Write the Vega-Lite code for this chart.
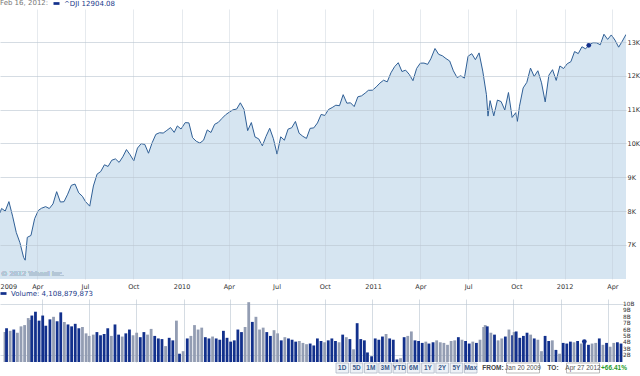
{
"$schema":"https://vega.github.io/schema/vega-lite/v6.json",
"padding":0,
"background":"white",
"spacing":0,
"datasets":{
"dji":[
{"t":"2009-01-20","c":7949,"v":5.6,"u":0},{"t":"2009-01-23","c":8077,"v":6.2,"u":1},{"t":"2009-01-30","c":8001,"v":5.8,"u":0},{"t":"2009-02-06","c":8280,"v":6.0,"u":1},{"t":"2009-02-13","c":7850,"v":5.5,"u":0},{"t":"2009-02-20","c":7366,"v":6.5,"u":0},{"t":"2009-02-27","c":7063,"v":6.7,"u":0},{"t":"2009-03-06","c":6627,"v":7.8,"u":0},{"t":"2009-03-09","c":6547,"v":7.5,"u":0},{"t":"2009-03-13","c":7223,"v":8.2,"u":1},{"t":"2009-03-20","c":7278,"v":8.8,"u":1},{"t":"2009-03-27","c":7776,"v":7.4,"u":1},
{"t":"2009-04-03","c":8018,"v":8.2,"u":1},{"t":"2009-04-09","c":8083,"v":6.6,"u":1},{"t":"2009-04-17","c":8131,"v":7.6,"u":1},{"t":"2009-04-24","c":8076,"v":8.0,"u":0},{"t":"2009-05-01","c":8212,"v":7.3,"u":1},{"t":"2009-05-08","c":8575,"v":8.7,"u":1},{"t":"2009-05-15","c":8268,"v":7.2,"u":0},{"t":"2009-05-22","c":8277,"v":6.8,"u":1},{"t":"2009-05-29","c":8500,"v":6.5,"u":1},{"t":"2009-06-05","c":8763,"v":6.9,"u":1},{"t":"2009-06-12","c":8799,"v":6.2,"u":1},{"t":"2009-06-19","c":8539,"v":6.4,"u":0},{"t":"2009-06-26","c":8438,"v":5.4,"u":0},
{"t":"2009-07-02","c":8280,"v":5.0,"u":0},{"t":"2009-07-10","c":8146,"v":5.2,"u":0},{"t":"2009-07-17","c":8743,"v":5.6,"u":1},{"t":"2009-07-24","c":9093,"v":5.1,"u":1},{"t":"2009-07-31","c":9171,"v":5.3,"u":1},{"t":"2009-08-07","c":9370,"v":6.2,"u":1},{"t":"2009-08-14","c":9321,"v":5.0,"u":0},{"t":"2009-08-21","c":9505,"v":6.8,"u":1},{"t":"2009-08-28","c":9544,"v":5.2,"u":1},{"t":"2009-09-04","c":9441,"v":4.9,"u":0},{"t":"2009-09-11","c":9605,"v":5.4,"u":1},{"t":"2009-09-18","c":9820,"v":6.0,"u":1},{"t":"2009-09-25","c":9665,"v":5.1,"u":0},
{"t":"2009-10-02","c":9487,"v":5.5,"u":0},{"t":"2009-10-09","c":9864,"v":4.8,"u":1},{"t":"2009-10-16","c":9995,"v":5.6,"u":1},{"t":"2009-10-23","c":9972,"v":5.2,"u":0},{"t":"2009-10-30","c":9712,"v":6.1,"u":0},{"t":"2009-11-06","c":10023,"v":5.0,"u":1},{"t":"2009-11-13","c":10270,"v":4.6,"u":1},{"t":"2009-11-20","c":10318,"v":4.5,"u":1},{"t":"2009-11-27","c":10309,"v":3.4,"u":0},{"t":"2009-12-04","c":10388,"v":4.7,"u":1},{"t":"2009-12-11","c":10471,"v":4.3,"u":1},{"t":"2009-12-18","c":10329,"v":7.4,"u":0},{"t":"2009-12-24","c":10520,"v":2.2,"u":1},{"t":"2009-12-31","c":10428,"v":2.6,"u":0},
{"t":"2010-01-08","c":10618,"v":4.6,"u":1},{"t":"2010-01-15","c":10610,"v":5.0,"u":0},{"t":"2010-01-22","c":10172,"v":6.7,"u":0},{"t":"2010-01-29","c":10067,"v":6.0,"u":0},{"t":"2010-02-05","c":10012,"v":6.3,"u":0},{"t":"2010-02-12","c":10099,"v":4.8,"u":1},{"t":"2010-02-19","c":10402,"v":4.6,"u":1},{"t":"2010-02-26","c":10325,"v":4.9,"u":0},{"t":"2010-03-05","c":10567,"v":4.6,"u":1},{"t":"2010-03-12","c":10625,"v":4.4,"u":1},{"t":"2010-03-19","c":10742,"v":5.8,"u":1},{"t":"2010-03-26","c":10851,"v":4.7,"u":1},
{"t":"2010-04-02","c":10927,"v":4.1,"u":1},{"t":"2010-04-09","c":10997,"v":4.3,"u":1},{"t":"2010-04-16","c":11019,"v":6.0,"u":1},{"t":"2010-04-23","c":11204,"v":5.6,"u":1},{"t":"2010-04-30","c":11009,"v":6.4,"u":0},{"t":"2010-05-07","c":10380,"v":10.3,"u":0},{"t":"2010-05-14","c":10620,"v":7.2,"u":1},{"t":"2010-05-21","c":10193,"v":8.0,"u":0},{"t":"2010-05-28","c":10137,"v":6.0,"u":0},{"t":"2010-06-04","c":9931,"v":6.3,"u":0},{"t":"2010-06-11","c":10212,"v":5.6,"u":1},{"t":"2010-06-18","c":10450,"v":5.0,"u":1},{"t":"2010-06-25","c":10143,"v":5.9,"u":0},
{"t":"2010-07-02","c":9686,"v":5.4,"u":0},{"t":"2010-07-09","c":10198,"v":4.3,"u":1},{"t":"2010-07-16","c":10097,"v":4.8,"u":0},{"t":"2010-07-23","c":10425,"v":4.6,"u":1},{"t":"2010-07-30","c":10466,"v":4.4,"u":1},{"t":"2010-08-06","c":10653,"v":4.1,"u":1},{"t":"2010-08-13","c":10303,"v":4.2,"u":0},{"t":"2010-08-20","c":10214,"v":3.9,"u":0},{"t":"2010-08-27","c":10150,"v":3.7,"u":0},{"t":"2010-09-03","c":10448,"v":3.8,"u":1},{"t":"2010-09-10","c":10462,"v":3.5,"u":1},{"t":"2010-09-17","c":10608,"v":4.6,"u":1},{"t":"2010-09-24","c":10860,"v":4.2,"u":1},
{"t":"2010-10-01","c":10830,"v":4.0,"u":0},{"t":"2010-10-08","c":11006,"v":4.3,"u":1},{"t":"2010-10-15","c":11063,"v":4.6,"u":1},{"t":"2010-10-22","c":11133,"v":4.2,"u":1},{"t":"2010-10-29","c":11118,"v":4.0,"u":0},{"t":"2010-11-05","c":11445,"v":5.2,"u":1},{"t":"2010-11-12","c":11193,"v":4.8,"u":0},{"t":"2010-11-19","c":11204,"v":4.5,"u":1},{"t":"2010-11-26","c":11092,"v":2.9,"u":0},{"t":"2010-12-03","c":11382,"v":7.0,"u":1},{"t":"2010-12-10","c":11410,"v":4.5,"u":1},{"t":"2010-12-17","c":11492,"v":4.3,"u":1},{"t":"2010-12-23","c":11573,"v":2.4,"u":1},{"t":"2010-12-31","c":11578,"v":1.8,"u":1},
{"t":"2011-01-07","c":11675,"v":4.6,"u":1},{"t":"2011-01-14","c":11787,"v":4.4,"u":1},{"t":"2011-01-21","c":11872,"v":4.9,"u":1},{"t":"2011-01-28","c":11824,"v":5.3,"u":0},{"t":"2011-02-04","c":12092,"v":4.6,"u":1},{"t":"2011-02-11","c":12273,"v":4.4,"u":1},{"t":"2011-02-18","c":12391,"v":1.3,"u":1},{"t":"2011-02-25","c":12130,"v":1.5,"u":0},{"t":"2011-03-04","c":12170,"v":4.8,"u":1},{"t":"2011-03-11","c":12044,"v":5.0,"u":0},{"t":"2011-03-18","c":11859,"v":5.7,"u":0},{"t":"2011-03-25","c":12221,"v":4.3,"u":1},
{"t":"2011-04-01","c":12377,"v":4.2,"u":1},{"t":"2011-04-08","c":12380,"v":3.9,"u":1},{"t":"2011-04-15","c":12342,"v":4.1,"u":0},{"t":"2011-04-21","c":12505,"v":3.8,"u":1},{"t":"2011-04-29","c":12811,"v":4.0,"u":1},{"t":"2011-05-06","c":12638,"v":4.3,"u":0},{"t":"2011-05-13","c":12596,"v":4.0,"u":0},{"t":"2011-05-20","c":12512,"v":3.9,"u":0},{"t":"2011-05-27","c":12441,"v":3.6,"u":0},{"t":"2011-06-03","c":12151,"v":4.2,"u":0},{"t":"2011-06-10","c":11952,"v":4.3,"u":0},{"t":"2011-06-17","c":12004,"v":4.8,"u":1},{"t":"2011-06-24","c":11934,"v":4.4,"u":0},
{"t":"2011-07-01","c":12582,"v":4.2,"u":1},{"t":"2011-07-08","c":12657,"v":3.8,"u":1},{"t":"2011-07-15","c":12480,"v":4.1,"u":0},{"t":"2011-07-22","c":12681,"v":3.9,"u":1},{"t":"2011-07-29","c":12143,"v":4.4,"u":0},{"t":"2011-08-05","c":11444,"v":6.4,"u":0},{"t":"2011-08-08","c":10810,"v":6.7,"u":0},{"t":"2011-08-12","c":11269,"v":6.5,"u":1},{"t":"2011-08-19","c":10818,"v":5.5,"u":0},{"t":"2011-08-26","c":11285,"v":5.2,"u":1},{"t":"2011-09-02","c":11240,"v":4.3,"u":0},{"t":"2011-09-09","c":10992,"v":4.6,"u":0},{"t":"2011-09-16","c":11509,"v":4.9,"u":1},{"t":"2011-09-23","c":10771,"v":6.0,"u":0},{"t":"2011-09-30","c":10913,"v":5.1,"u":1},
{"t":"2011-10-03","c":10655,"v":5.6,"u":0},{"t":"2011-10-07","c":11103,"v":5.7,"u":1},{"t":"2011-10-14","c":11644,"v":4.7,"u":1},{"t":"2011-10-21","c":11809,"v":5.0,"u":1},{"t":"2011-10-28","c":12231,"v":5.5,"u":1},{"t":"2011-11-04","c":11983,"v":5.2,"u":0},{"t":"2011-11-11","c":12153,"v":4.6,"u":1},{"t":"2011-11-18","c":11796,"v":4.4,"u":0},{"t":"2011-11-25","c":11231,"v":2.6,"u":0},{"t":"2011-12-02","c":12019,"v":5.0,"u":1},{"t":"2011-12-09","c":12184,"v":4.2,"u":1},{"t":"2011-12-16","c":11867,"v":4.3,"u":0},{"t":"2011-12-23","c":12294,"v":2.8,"u":1},{"t":"2011-12-30","c":12218,"v":2.2,"u":0},
{"t":"2012-01-06","c":12360,"v":3.9,"u":1},{"t":"2012-01-13","c":12422,"v":3.8,"u":1},{"t":"2012-01-20","c":12720,"v":4.1,"u":1},{"t":"2012-01-27","c":12660,"v":4.0,"u":0},{"t":"2012-02-03","c":12862,"v":4.2,"u":1},{"t":"2012-02-10","c":12801,"v":3.8,"u":0},{"t":"2012-02-16","c":12904,"v":4.11,"u":1},{"t":"2012-02-24","c":12983,"v":3.6,"u":1},{"t":"2012-03-02","c":12978,"v":3.8,"u":0},{"t":"2012-03-09","c":12922,"v":3.9,"u":0},{"t":"2012-03-16","c":13233,"v":4.6,"u":1},{"t":"2012-03-23","c":13081,"v":3.6,"u":0},{"t":"2012-03-30","c":13212,"v":3.9,"u":1},
{"t":"2012-04-06","c":13060,"v":3.3,"u":0},{"t":"2012-04-13","c":12850,"v":3.9,"u":0},{"t":"2012-04-20","c":13029,"v":4.0,"u":1},{"t":"2012-04-27","c":13228,"v":3.8,"u":1}
],
"vt":[{"b":2,"l":"2B"},{"b":3,"l":"3B"},{"b":4,"l":"4B"},{"b":5,"l":"5B"},{"b":6,"l":"6B"},{"b":7,"l":"7B"},{"b":8,"l":"8B"},{"b":9,"l":"9B"},{"b":10,"l":"10B"}],
"ui":[
{"k":"1D","g":"b"},{"k":"5D","g":"b"},{"k":"1M","g":"b"},{"k":"3M","g":"b"},{"k":"YTD","g":"b"},{"k":"6M","g":"b"},{"k":"1Y","g":"b"},{"k":"2Y","g":"b"},{"k":"5Y","g":"b"},{"k":"Max","g":"b"},
{"k":"FROM:","g":"l"},{"k":"Jan 20 2009","g":"x"},{"k":"TO:","g":"l"},{"k":"Apr 27 2012","g":"x"},{"k":"+66.41%","g":"p"}
]
},
"config":{
"view":{"stroke":null},
"font":"DejaVu Sans",
"axis":{"labelFont":"DejaVu Sans","labelFontSize":6.5,"labelColor":"#333333","ticks":false,"domain":false,"gridColor":"#b9c5d1","gridOpacity":0.6},
"legend":{"labelFont":"DejaVu Sans","labelFontSize":7,"padding":0,"symbolType":"M-1,-0.45H1V0.45H-1Z","symbolSize":36,"symbolStrokeWidth":0,"labelColor":"#1a3a8a","orient":"top","direction":"horizontal","offset":2}
},
"resolve":{"scale":{"x":"independent","y":"independent","color":"independent"},"legend":{"color":"independent"}},
"vconcat":[
{
"width":626,"height":270,
"data":{"name":"dji"},
"layer":[
{"mark":{"type":"area","color":"#d6e5f1","opacity":1,"clip":true,"line":{"color":"#2f5f96","strokeWidth":1}},
"encoding":{
"x":{"field":"t","type":"temporal","scale":{"domain":[{"year":2009,"month":1,"date":20,"utc":true},{"year":2012,"month":4,"date":27,"utc":true}]},
"axis":{"orient":"bottom","title":null,"zindex":1,"labelPadding":4,"labelFlush":true,"labelOverlap":false,
"values":[{"year":2009,"month":1,"date":20,"utc":true},{"year":2009,"month":4,"date":1,"utc":true},{"year":2009,"month":7,"date":1,"utc":true},{"year":2009,"month":10,"date":1,"utc":true},{"year":2010,"month":1,"date":1,"utc":true},{"year":2010,"month":4,"date":1,"utc":true},{"year":2010,"month":7,"date":1,"utc":true},{"year":2010,"month":10,"date":1,"utc":true},{"year":2011,"month":1,"date":1,"utc":true},{"year":2011,"month":4,"date":1,"utc":true},{"year":2011,"month":7,"date":1,"utc":true},{"year":2011,"month":10,"date":1,"utc":true},{"year":2012,"month":1,"date":1,"utc":true},{"year":2012,"month":4,"date":1,"utc":true}],
"labelExpr":"utcFormat(datum.value,'%m')=='01' ? utcFormat(datum.value,'%Y') : utcFormat(datum.value,'%b')",
"gridOpacity":{"condition":{"test":"utcdate(datum.value)==20","value":0},"value":0.6}}},
"y":{"field":"c","type":"quantitative","scale":{"domain":[5990,13980],"zero":false,"nice":false},
"axis":{"orient":"right","title":null,"zindex":1,"labelPadding":1,"labelAlign":"left","values":[7000,8000,9000,10000,11000,12000,13000],"labelExpr":"(datum.value/1000)+'K'"}}
}},
{"mark":{"type":"text","align":"left","baseline":"bottom","fontSize":6.5,"color":"#b3c6d6"},
"encoding":{"x":{"datum":{"year":2009,"month":1,"date":22,"utc":true},"type":"temporal"},"y":{"datum":6050},"text":{"value":"© 2012 Yahoo! Inc."}}},
{"transform":[{"filter":"datum.c==12904"}],
"mark":{"type":"point","filled":true,"size":22,"opacity":1},
"encoding":{"x":{"field":"t","type":"temporal"},"y":{"field":"c","type":"quantitative"},
"color":{"datum":"^DJI 12904.08","scale":{"range":["#12308c"]},
"legend":{"title":"Feb 16, 2012:","titleOrient":"left","titleFontSize":7,"titleFontWeight":"normal","titleColor":"#777777","titlePadding":4,"titleFont":"DejaVu Sans"}}}}
]
},
{
"width":626,"height":63,
"layer":[
{"data":{"name":"dji"},"mark":{"type":"bar","width":2.8,"clip":true},
"encoding":{
"x":{"field":"t","type":"temporal","scale":{"domain":[{"year":2009,"month":1,"date":20,"utc":true},{"year":2012,"month":4,"date":27,"utc":true}]},
"axis":{"orient":"bottom","title":null,"labels":false,"zindex":0,
"values":[{"year":2009,"month":4,"date":1,"utc":true},{"year":2009,"month":7,"date":1,"utc":true},{"year":2009,"month":10,"date":1,"utc":true},{"year":2010,"month":1,"date":1,"utc":true},{"year":2010,"month":4,"date":1,"utc":true},{"year":2010,"month":7,"date":1,"utc":true},{"year":2010,"month":10,"date":1,"utc":true},{"year":2011,"month":1,"date":1,"utc":true},{"year":2011,"month":4,"date":1,"utc":true},{"year":2011,"month":7,"date":1,"utc":true},{"year":2011,"month":10,"date":1,"utc":true},{"year":2012,"month":1,"date":1,"utc":true},{"year":2012,"month":4,"date":1,"utc":true}]}},
"y":{"field":"v","type":"quantitative","scale":{"domain":[0.9,10.8],"zero":false,"nice":false},
"axis":{"orient":"right","title":null,"zindex":0,"labels":false,"values":[2,3,4,5,6,7,8,9,10]}},
"fill":{"field":"u","type":"nominal","scale":{"domain":[0,1],"range":["#939db3","#12308c"]},"legend":null}
}},
{"data":{"name":"dji"},"transform":[{"filter":"datum.c==12904"}],
"mark":{"type":"point","filled":true,"size":22,"opacity":1},
"encoding":{"x":{"field":"t","type":"temporal"},"y":{"field":"v","type":"quantitative"},
"color":{"datum":"Volume: 4,108,879,873","scale":{"range":["#12308c"]},"legend":{"title":null}}}},
{"data":{"name":"vt"},
"mark":{"type":"text","align":"left","baseline":"middle","dx":2,"fontSize":5.8,"color":"#333333","font":"DejaVu Sans"},
"encoding":{"x":{"datum":{"year":2012,"month":4,"date":27,"utc":true},"type":"temporal"},"y":{"field":"b","type":"quantitative"},"text":{"field":"l"}}}
]
},
{
"width":626,"height":10,
"data":{"name":"ui"},
"resolve":{"scale":{"x":"independent"}},
"layer":[
{"transform":[{"filter":"datum.g=='b'"}],
"encoding":{"x":{"field":"k","type":"nominal","sort":null,"axis":null,
"scale":{"domain":["1D","5D","1M","3M","YTD","6M","1Y","2Y","5Y","Max"],"range":[336,477],"paddingInner":0.12,"paddingOuter":0}}},
"layer":[
{"mark":{"type":"rect","fill":"#eef2f7","stroke":"#aeb8c6","strokeWidth":0.8}},
{"mark":{"type":"text","font":"Liberation Sans","fontSize":6.5,"fontWeight":"bold","color":"#3a5a8a"},"encoding":{"text":{"field":"k"}}}
]},
{"transform":[{"filter":"datum.g!='b'"}],
"encoding":{"x":{"field":"k","type":"nominal","sort":null,"axis":null,
"scale":{"domain":["FROM:","Jan 20 2009","TO:","Apr 27 2012","+66.41%"],"range":[478,628],"paddingInner":0,"paddingOuter":0}}},
"layer":[
{"transform":[{"filter":"datum.g=='x'"}],"mark":{"type":"rect","fill":"white","stroke":"#aaaaaa","strokeWidth":0.8,"width":33}},
{"transform":[{"filter":"datum.g=='x'"}],"mark":{"type":"text","font":"Liberation Sans","fontSize":6.5,"color":"#555555"},"encoding":{"text":{"field":"k"}}},
{"transform":[{"filter":"datum.g=='l'"}],"mark":{"type":"text","font":"Liberation Sans","fontSize":6.5,"fontWeight":"bold","color":"#444444"},"encoding":{"text":{"field":"k"}}},
{"transform":[{"filter":"datum.g=='p'"}],"mark":{"type":"text","font":"Liberation Sans","fontSize":6.5,"fontWeight":"bold","color":"#2a9a2a","align":"center","dx":1},"encoding":{"text":{"field":"k"}}}
]}
]
}
]
}
